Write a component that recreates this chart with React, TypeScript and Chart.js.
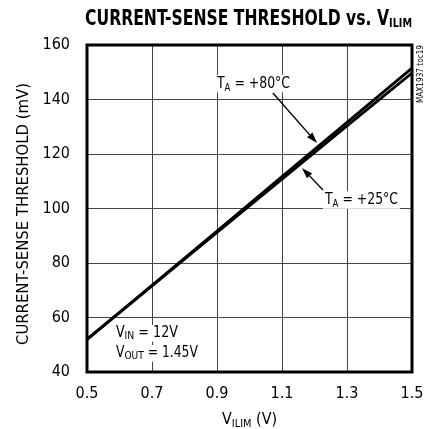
import React, { useEffect, useRef } from 'react';
import { Chart, registerables } from 'chart.js';

Chart.register(...registerables);

const X_VALUES = [0.5, 0.7, 0.9, 1.1, 1.3, 1.5];
const THRESHOLD_25C = [52, 71.6, 91.2, 110.8, 130.3, 149.7];
const THRESHOLD_80C = [52, 71.8, 91.7, 111.7, 131.6, 151.5];
const X_TICKS = [0.5, 0.7, 0.9, 1.1, 1.3, 1.5];
const Y_TICKS = [40, 60, 80, 100, 120, 140, 160];

const FONT = "'Liberation Sans Narrow', 'DejaVu Sans Condensed', 'Arial Narrow', sans-serif";

type Seg = { t: string; sub?: boolean };

interface RichOpts {
  x: number;
  y: number;
  size: number;
  subSize: number;
  subDrop: number;
  weight?: string;
  width?: number;
  align: 'left' | 'right' | 'center';
  bg?: boolean;
}

function drawRich(ctx: CanvasRenderingContext2D, segs: Seg[], o: RichOpts) {
  const weight = o.weight || 'normal';
  const fontOf = (s: Seg) => `${weight} ${s.sub ? o.subSize : o.size}px ${FONT}`;
  let w = 0;
  const widths = segs.map((s) => {
    ctx.font = fontOf(s);
    const m = ctx.measureText(s.t).width;
    w += m;
    return m;
  });
  const sc = o.width ? o.width / w : 1;
  const tw = w * sc;
  let left = o.x;
  if (o.align === 'right') left = o.x - tw;
  if (o.align === 'center') left = o.x - tw / 2;
  if (o.bg) {
    ctx.save();
    ctx.fillStyle = '#fff';
    ctx.fillRect(left - 2, o.y - o.size * 0.8, tw + 4, o.size * 0.8 + o.size * 0.3);
    ctx.restore();
  }
  ctx.save();
  ctx.translate(left, o.y);
  ctx.scale(sc, 1);
  ctx.fillStyle = '#000';
  ctx.textBaseline = 'alphabetic';
  ctx.textAlign = 'left';
  let cx = 0;
  segs.forEach((s, i) => {
    ctx.font = fontOf(s);
    ctx.fillText(s.t, cx, s.sub ? o.subDrop : 0);
    cx += widths[i];
  });
  ctx.restore();
}

function arrow(ctx: CanvasRenderingContext2D, x1: number, y1: number, x2: number, y2: number) {
  const ang = Math.atan2(y2 - y1, x2 - x1);
  const len = 11;
  const hw = 3.6;
  const bx = x2 - len * Math.cos(ang);
  const by = y2 - len * Math.sin(ang);
  ctx.save();
  ctx.strokeStyle = '#000';
  ctx.fillStyle = '#000';
  ctx.lineWidth = 1.4;
  ctx.beginPath();
  ctx.moveTo(x1, y1);
  ctx.lineTo(bx, by);
  ctx.stroke();
  ctx.beginPath();
  ctx.moveTo(x2, y2);
  ctx.lineTo(bx + hw * Math.sin(ang), by - hw * Math.cos(ang));
  ctx.lineTo(bx - hw * Math.sin(ang), by + hw * Math.cos(ang));
  ctx.closePath();
  ctx.fill();
  ctx.restore();
}

const decor = {
  id: 'decor',
  beforeDatasetsDraw(chart: any) {
    const ctx: CanvasRenderingContext2D = chart.ctx;
    const xs = chart.scales.x;
    const ys = chart.scales.y;
    const px = (v: number) => xs.getPixelForValue(v);
    const py = (v: number) => ys.getPixelForValue(v);
    drawRich(ctx, [{ t: 'T' }, { t: 'A', sub: true }, { t: ' = +80°C' }], {
      x: px(1.1246), y: py(144.4), size: 16, subSize: 11, subDrop: 3, width: 73, align: 'right', bg: true,
    });
    drawRich(ctx, [{ t: 'T' }, { t: 'A', sub: true }, { t: ' = +25°C' }], {
      x: px(1.2323), y: py(101.65), size: 16, subSize: 11, subDrop: 3, width: 73, align: 'left', bg: true,
    });
    drawRich(ctx, [{ t: 'V' }, { t: 'IN', sub: true }, { t: ' = 12V' }], {
      x: px(0.589), y: py(52.84), size: 15, subSize: 11, subDrop: 2, width: 62, align: 'left', bg: true,
    });
    drawRich(ctx, [{ t: 'V' }, { t: 'OUT', sub: true }, { t: ' = 1.45V' }], {
      x: px(0.589), y: py(45.5), size: 15, subSize: 11, subDrop: 2, width: 82, align: 'left', bg: true,
    });
  },
  afterDatasetsDraw(chart: any) {
    const ctx: CanvasRenderingContext2D = chart.ctx;
    const xs = chart.scales.x;
    const ys = chart.scales.y;
    const px = (v: number) => xs.getPixelForValue(v);
    const py = (v: number) => ys.getPixelForValue(v);
    arrow(ctx, px(1.072), py(142.4), px(1.2077), py(124.0));
    arrow(ctx, px(1.226), py(106.8), px(1.1615), py(114.9));
    const a = chart.chartArea;
    ctx.save();
    ctx.strokeStyle = '#000';
    ctx.lineWidth = 3;
    ctx.strokeRect(a.left, a.top, a.right - a.left, a.bottom - a.top);
    ctx.restore();
  },
  afterDraw(chart: any) {
    const ctx: CanvasRenderingContext2D = chart.ctx;
    drawRich(ctx, [{ t: 'CURRENT-SENSE THRESHOLD vs. V' }, { t: 'ILIM', sub: true }], {
      x: 85, y: 25, size: 21, subSize: 13, subDrop: 1.5, weight: 'bold', width: 327, align: 'left',
    });
    drawRich(ctx, [{ t: 'V' }, { t: 'ILIM', sub: true }, { t: ' (V)' }], {
      x: 222, y: 424, size: 16, subSize: 11, subDrop: 2.5, width: 55, align: 'left',
    });
    ctx.save();
    ctx.translate(28, 214);
    ctx.rotate(-Math.PI / 2);
    drawRich(ctx, [{ t: 'CURRENT-SENSE THRESHOLD (mV)' }], {
      x: 0, y: 0, size: 15, subSize: 11, subDrop: 0, width: 262, align: 'center',
    });
    ctx.restore();
    ctx.save();
    ctx.translate(423, 74);
    ctx.rotate(-Math.PI / 2);
    drawRich(ctx, [{ t: 'MAX1937 toc19' }], {
      x: 0, y: 0, size: 9, subSize: 9, subDrop: 0, width: 58, align: 'center',
    });
    ctx.restore();
  },
};

export default function App() {
  const ref = useRef<HTMLCanvasElement | null>(null);
  useEffect(() => {
    if (!ref.current) return;
    const mk = (vals: number[]) => X_VALUES.map((x, i) => ({ x, y: vals[i] }));
    const chart = new Chart(ref.current, {
      type: 'line',
      data: {
        datasets: [
          { label: 'TA = +25°C', data: mk(THRESHOLD_25C), borderColor: '#000', borderWidth: 2.8, pointRadius: 0, tension: 0, fill: false },
          { label: 'TA = +80°C', data: mk(THRESHOLD_80C), borderColor: '#000', borderWidth: 2.8, pointRadius: 0, tension: 0, fill: false },
        ],
      },
      options: {
        animation: false,
        responsive: false,
        devicePixelRatio: 1,
        layout: { padding: { top: 45, right: 13, left: 0, bottom: 0 } },
        plugins: { legend: { display: false }, tooltip: { enabled: false }, title: { display: false } },
        scales: {
          x: {
            type: 'linear',
            min: 0.5,
            max: 1.5,
            afterBuildTicks: (s: any) => { s.ticks = X_TICKS.map((v) => ({ value: v })); },
            afterFit: (s: any) => { s.height = 57; s.paddingLeft = 0; s.paddingRight = 0; },
            ticks: {
              callback: (v: any) => Number(v).toFixed(1),
              font: { family: FONT, size: 16 },
              color: '#000',
              padding: 12,
              maxRotation: 0,
              autoSkip: false,
            },
            grid: { color: '#444', lineWidth: 1, drawTicks: false },
            border: { display: false },
          },
          y: {
            type: 'linear',
            min: 40,
            max: 160,
            afterBuildTicks: (s: any) => { s.ticks = Y_TICKS.map((v) => ({ value: v })); },
            afterFit: (s: any) => { s.width = 87; s.paddingTop = 0; s.paddingBottom = 0; },
            ticks: {
              font: { family: FONT, size: 16 },
              color: '#000',
              padding: 17,
              autoSkip: false,
            },
            grid: { color: '#444', lineWidth: 1, drawTicks: false },
            border: { display: false },
          },
        },
      },
      plugins: [decor],
    });
    return () => chart.destroy();
  }, []);
  return (
    <div style={{ position: 'fixed', left: 0, top: 0, width: 425, height: 429, background: '#fff' }}>
      <canvas ref={ref} width={425} height={429} style={{ width: 425, height: 429, display: 'block' }} />
    </div>
  );
}
